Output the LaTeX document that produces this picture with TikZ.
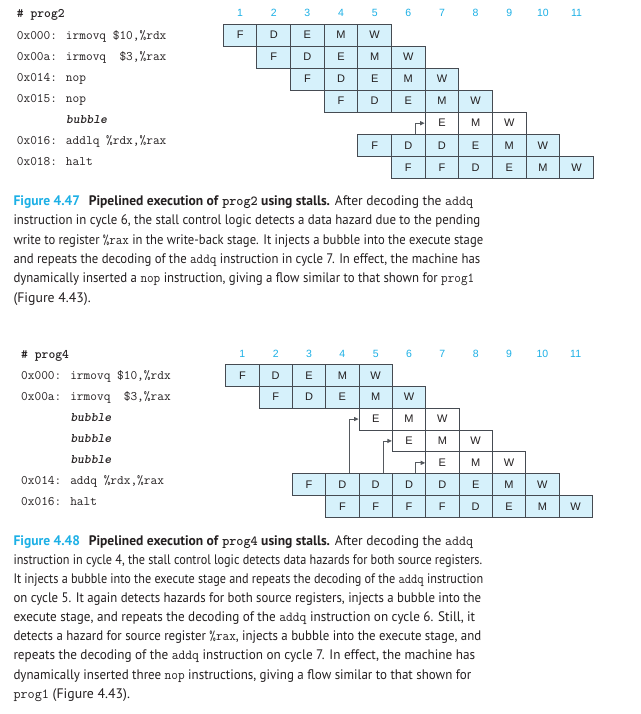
\documentclass[tikz,border=0pt]{standalone}
\usepackage{fontspec}
\usepackage{graphicx}
\setmainfont{PT Sans}
\setsansfont{Liberation Sans}
\newfontfamily\bubfont{lmmonolt10-bold.otf}[FakeSlant=0.2]
\usetikzlibrary{calc,arrows.meta}
\definecolor{figcyan}{HTML}{1CB0E6}
\definecolor{cellfill}{HTML}{D6F1FB}
\definecolor{cellline}{HTML}{464B52}
\definecolor{txt}{HTML}{231F20}
\definecolor{arrowgray}{HTML}{55595E}
\tikzset{
  cellb/.style={draw=cellline, line width=0.9pt, fill=cellfill, minimum width=\gw pt, minimum height=\gh pt, inner sep=0pt, font=\fontsize{11}{11}\sffamily, text=txt},
  cellw/.style={cellb, fill=white},
  cyc/.style={inner sep=0pt, font=\fontsize{10.5}{10.5}\sffamily, text=figcyan},
  code/.style={anchor=base west, inner sep=0pt, font=\fontsize{13}{13}\ttfamily, text=txt},
  stallarrow/.style={draw=arrowgray, line width=0.9pt, -{Triangle[length=4.5pt,width=4pt]}},
  capline/.style={anchor=base west, inner sep=0pt, font=\fontsize{13.8}{16}\selectfont, text=txt}
}
\newlength\capnat
\newcommand\fitline[2]{%
  \settowidth\capnat{#2}%
  \ifdim\capnat>#1pt
    \pgfmathsetmacro\capsc{#1/\capnat}%
    \scalebox{\capsc}[1]{#2}%
  \else
    \makebox[#1pt][s]{#2}%
  \fi}
\newcommand\pipeRow[5]{%
  \foreach \L [count=\c from #3] in {#5} {
    \pgfmathsetmacro\cx{\gx+(\c-0.5)*\gw}
    \pgfmathsetmacro\cy{\gy+(#2-0.5)*\gh}
    \node[#4] (#1r#2c\c) at (\cx,\cy) {\L};
  }}
\newcommand\bub{\hphantom{0x000: }{\bubfont bubble}}
\newcommand\figlab[1]{\textcolor{figcyan}{\bfseries Figure #1}\hspace{9pt}}
\begin{document}
\begin{tikzpicture}[x=1pt,y=-1pt]
\path[use as bounding box, fill=white] (0,0) rectangle (640,714);

% ---------- Figure 4.47 ----------
\def\gx{223.3}\def\gy{24}\def\gw{33.64}\def\gh{22.04}
\foreach \c in {1,...,11} {\node[cyc] (g1n\c) at ({\gx+(\c-0.5)*\gw},13.3) {\c};}
\pipeRow{g1}{1}{1}{cellb}{F,D,E,M,W}
\pipeRow{g1}{2}{2}{cellb}{F,D,E,M,W}
\pipeRow{g1}{3}{3}{cellb}{F,D,E,M,W}
\pipeRow{g1}{4}{4}{cellb}{F,D,E,M,W}
\pipeRow{g1}{5}{7}{cellw}{E,M,W}
\pipeRow{g1}{6}{5}{cellb}{F,D,D,E,M,W}
\pipeRow{g1}{7}{6}{cellb}{F,F,D,E,M,W}
\draw[stallarrow] ($(g1r6c6.north west)!0.7!(g1r6c6.north east)$) |- (g1r5c7.west);

\node[code] (p2h) at (16.7,17.5) {\bfseries \# prog2};
\node[code] (p2a) at (16.7,39.2) {0x000: irmovq \$10,\%rdx};
\node[code] (p2b) at (16.7,60.3) {0x00a: irmovq~~\$3,\%rax};
\node[code] (p2c) at (16.7,81.4) {0x014: nop};
\node[code] (p2d) at (16.7,102.5) {0x015: nop};
\node[code] (p2e) at (16.7,123.6) {\bub};
\node[code] (p2f) at (16.7,144.7) {0x016: addlq \%rdx,\%rax};
\node[code] (p2g) at (16.7,165.8) {0x018: halt};

\node[capline] (c1a) at (13.3,205.5) {\fitline{459.7}{\figlab{4.47}\textbf{Pipelined execution of \texttt{prog2} using stalls.} After decoding the \texttt{addq}}};
\node[capline] (c1b) at (13.3,224.8) {\fitline{466.7}{instruction in cycle 6, the stall control logic detects a data hazard due to the pending}};
\node[capline] (c1c) at (13.3,244.1) {\fitline{469.7}{write to register \texttt{\%rax} in the write-back stage. It injects a bubble into the execute stage}};
\node[capline] (c1d) at (13.3,263.4) {\fitline{466.7}{and repeats the decoding of the \texttt{addq} instruction in cycle 7. In effect, the machine has}};
\node[capline] (c1e) at (13.3,282.7) {\fitline{460.7}{dynamically inserted a \texttt{nop} instruction, giving a flow similar to that shown for \texttt{prog1}}};
\node[capline] (c1f) at (13.3,302.0) {(Figure 4.43).};

% ---------- Figure 4.48 ----------
\def\gx{225.7}\def\gy{364.3}\def\gw{33.33}\def\gh{21.9}
\foreach \c in {1,...,11} {\node[cyc] (g2n\c) at ({\gx+(\c-0.5)*\gw},354.3) {\c};}
\pipeRow{g2}{1}{1}{cellb}{F,D,E,M,W}
\pipeRow{g2}{2}{2}{cellb}{F,D,E,M,W}
\pipeRow{g2}{3}{5}{cellw}{E,M,W}
\pipeRow{g2}{4}{6}{cellw}{E,M,W}
\pipeRow{g2}{5}{7}{cellw}{E,M,W}
\pipeRow{g2}{6}{3}{cellb}{F,D,D,D,D,E,M,W}
\pipeRow{g2}{7}{4}{cellb}{F,F,F,F,D,E,M,W}
\draw[stallarrow] ($(g2r6c4.north west)!0.71!(g2r6c4.north east)$) |- (g2r3c5.west);
\draw[stallarrow] ($(g2r6c5.north west)!0.73!(g2r6c5.north east)$) |- (g2r4c6.west);
\draw[stallarrow] ($(g2r6c6.north west)!0.7!(g2r6c6.north east)$) |- (g2r5c7.west);

\node[code] (p4h) at (21,358.5) {\bfseries \# prog4};
\node[code] (p4a) at (21,379.8) {0x000: irmovq \$10,\%rdx};
\node[code] (p4b) at (21,400.7) {0x00a: irmovq~~\$3,\%rax};
\node[code] (p4c) at (21,421.6) {\bub};
\node[code] (p4d) at (21,442.4) {\bub};
\node[code] (p4e) at (21,463.3) {\bub};
\node[code] (p4f) at (21,484.2) {0x014: addq \%rdx,\%rax};
\node[code] (p4g) at (21,505.0) {0x016: halt};

\node[capline] (c2a) at (13.3,545.5) {\fitline{459.7}{\figlab{4.48}\textbf{Pipelined execution of \texttt{prog4} using stalls.} After decoding the \texttt{addq}}};
\node[capline] (c2b) at (13.3,564.6) {\fitline{468.7}{instruction in cycle 4, the stall control logic detects data hazards for both source registers.}};
\node[capline] (c2c) at (13.3,583.6) {\fitline{469.7}{It injects a bubble into the execute stage and repeats the decoding of the \texttt{addq} instruction}};
\node[capline] (c2d) at (13.3,602.7) {\fitline{467.7}{on cycle 5. It again detects hazards for both source registers, injects a bubble into the}};
\node[capline] (c2e) at (13.3,621.8) {\fitline{461.7}{execute stage, and repeats the decoding of the \texttt{addq} instruction on cycle 6. Still, it}};
\node[capline] (c2f) at (13.3,640.8) {\fitline{467.7}{detects a hazard for source register \texttt{\%rax}, injects a bubble into the execute stage, and}};
\node[capline] (c2g) at (13.3,659.9) {\fitline{461.7}{repeats the decoding of the \texttt{addq} instruction on cycle 7. In effect, the machine has}};
\node[capline] (c2h) at (13.3,679.0) {\fitline{457.7}{dynamically inserted three \texttt{nop} instructions, giving a flow similar to that shown for}};
\node[capline] (c2i) at (13.3,698.1) {\texttt{prog1} (Figure 4.43).};
\end{tikzpicture}
\end{document}
